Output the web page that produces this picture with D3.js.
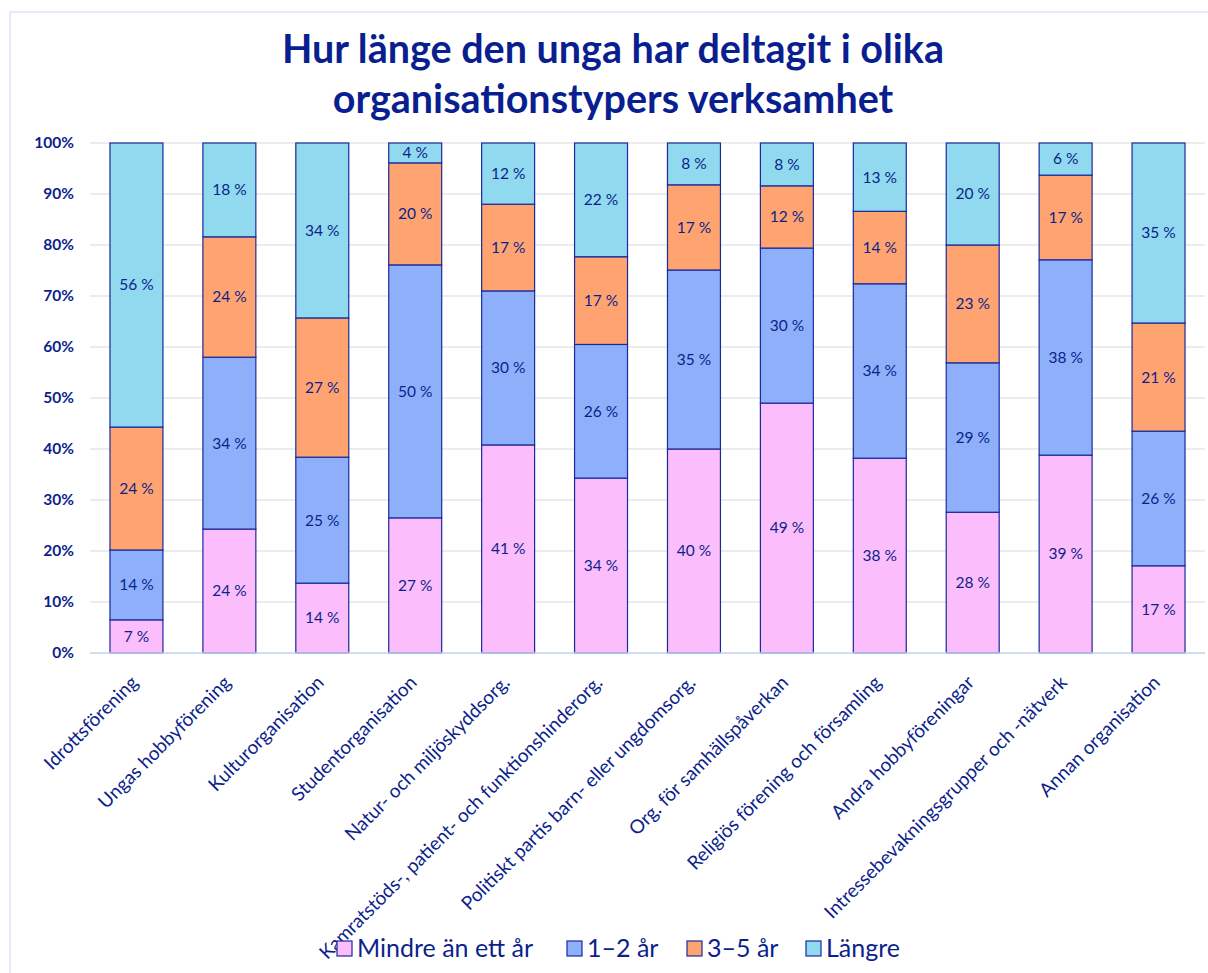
<!DOCTYPE html>
<html>
<head>
<meta charset="utf-8">
<script src="https://cdn.jsdelivr.net/npm/d3@7"></script>
<style>
  body { margin: 0; background: #fff; }
  svg { display: block; font-family: Lato, "Open Sans", sans-serif; }
</style>
</head>
<body>
<svg width="1208" height="973"></svg>
<script>
// Categories on the x axis
var categories = [
  "Idrottsförening",
  "Ungas hobbyförening",
  "Kulturorganisation",
  "Studentorganisation",
  "Natur- och miljöskyddsorg.",
  "Kamratstöds-, patient- och funktionshinderorg.",
  "Politiskt partis barn- eller ungdomsorg.",
  "Org. för samhällspåverkan",
  "Religiös förening och församling",
  "Andra hobbyföreningar",
  "Intressebevakningsgrupper och -nätverk",
  "Annan organisation"
];

// Series names (legend)
var seriesNames = ["Mindre än ett år", "1–2 år", "3–5 år", "Längre"];

// Share in percent, per series
var mindre = [6.5, 24.3, 13.7, 26.5, 40.8, 34.3, 40.0, 49.0, 38.2, 27.6, 38.8, 17.1];
var ettTva = [13.7, 33.7, 24.7, 49.6, 30.2, 26.2, 35.1, 30.4, 34.2, 29.3, 38.3, 26.4];
var treFem = [24.1, 23.6, 27.3, 20.0, 17.0, 17.2, 16.7, 12.2, 14.2, 23.1, 16.6, 21.2];
var langre = [55.7, 18.4, 34.3, 3.9, 12.0, 22.3, 8.2, 8.4, 13.4, 20.0, 6.3, 35.3];

var yTicks = [0, 0.1, 0.2, 0.3, 0.4, 0.5, 0.6, 0.7, 0.8, 0.9, 1];

var colors = ["#fbbdfb", "#8eb0fb", "#ffa470", "#90d9ee"];
var navy = "#0c1f8c";

var svg = d3.select("svg");

// build rows for d3.stack
var seriesValues = [mindre, ettTva, treFem, langre];
var rows = categories.map(function(c, i) {
  var r = { cat: c };
  seriesNames.forEach(function(s, j) { r[s] = seriesValues[j][i] / 100; });
  return r;
});

var stacked = d3.stack().keys(seriesNames)(rows);

var x = d3.scaleBand()
  .domain(categories)
  .range([90, 1205])
  .paddingInner(0.43)
  .paddingOuter(0.215);

var y = d3.scaleLinear()
  .domain([0, 1])
  .range([653, 143]);

// outer chart frame
svg.append("rect")
  .attr("x", 10).attr("y", 12)
  .attr("width", 1220).attr("height", 990)
  .attr("fill", "none")
  .attr("stroke", "#c9d5f7")
  .attr("stroke-width", 1);

// title
svg.append("text")
  .attr("x", 613).attr("y", 63)
  .attr("text-anchor", "middle")
  .attr("fill", "#0a1f8f")
  .style("font-size", "39.5px")
  .style("font-weight", "bold")
  .selectAll("tspan")
  .data(["Hur länge den unga har deltagit i olika", "organisationstypers verksamhet"])
  .enter().append("tspan")
  .attr("x", 613)
  .attr("dy", function(d, i) { return i ? 50 : 0; })
  .text(function(d) { return d; });

// gridlines
svg.append("g")
  .selectAll("line")
  .data(yTicks.slice(1))
  .enter().append("line")
  .attr("x1", 90).attr("x2", 1205)
  .attr("y1", function(d) { return y(d); })
  .attr("y2", function(d) { return y(d); })
  .attr("stroke", "#d9d9d9")
  .attr("stroke-width", 1);

// y axis labels
var yAxis = svg.append("g")
  .attr("transform", "translate(90,0)")
  .call(d3.axisLeft(y).tickValues(yTicks).tickFormat(d3.format(".0%")).tickSize(0).tickPadding(16));
yAxis.select(".domain").remove();
yAxis.selectAll("text")
  .attr("fill", navy)
  .style("font-size", "15.5px")
  .style("font-weight", "bold")
  .style("font-family", "Lato, sans-serif");

// bars
var layer = svg.append("g")
  .selectAll("g")
  .data(stacked)
  .enter().append("g")
  .attr("fill", function(d, i) { return colors[i]; });

layer.selectAll("rect")
  .data(function(d) { return d; })
  .enter().append("rect")
  .attr("x", function(d) { return x(d.data.cat); })
  .attr("width", x.bandwidth())
  .attr("y", function(d) { return y(d[1]); })
  .attr("height", function(d) { return y(d[0]) - y(d[1]); })
  .attr("stroke", "#1a2a9c")
  .attr("stroke-width", 1.2);

// value labels
layer.selectAll("text")
  .data(function(d) { return d; })
  .enter().append("text")
  .attr("x", function(d) { return x(d.data.cat) + x.bandwidth() / 2; })
  .attr("y", function(d) { return (y(d[0]) + y(d[1])) / 2; })
  .attr("dy", "0.35em")
  .attr("text-anchor", "middle")
  .attr("fill", navy)
  .style("font-size", "15.5px")
  .text(function(d) { return Math.round((d[1] - d[0]) * 100) + " %"; });

// baseline
svg.append("line")
  .attr("x1", 90).attr("x2", 1205)
  .attr("y1", y(0)).attr("y2", y(0))
  .attr("stroke", "#c5d0f2")
  .attr("stroke-width", 1.5);

// x labels, rotated
svg.append("g")
  .selectAll("text")
  .data(categories)
  .enter().append("text")
  .attr("transform", function(d) {
    return "translate(" + (x(d) + x.bandwidth() / 2 - 2) + ",679) rotate(-45)";
  })
  .attr("text-anchor", "end")
  .attr("dy", "0.35em")
  .attr("fill", navy)
  .style("font-size", "19px")
  .text(function(d) { return d; });

// legend
var legendX = [337, 567, 687, 806];
var legend = svg.append("g")
  .selectAll("g")
  .data(seriesNames)
  .enter().append("g")
  .attr("transform", function(d, i) { return "translate(" + legendX[i] + ",941)"; });

legend.append("rect")
  .attr("width", 15).attr("height", 15)
  .attr("fill", function(d, i) { return colors[i]; })
  .attr("stroke", "#1a2a9c")
  .attr("stroke-width", 1.2);

legend.append("text")
  .attr("x", 20).attr("y", 7.5)
  .attr("dy", "0.35em")
  .attr("fill", navy)
  .style("font-size", "25px")
  .text(function(d) { return d; });
</script>
</body>
</html>
